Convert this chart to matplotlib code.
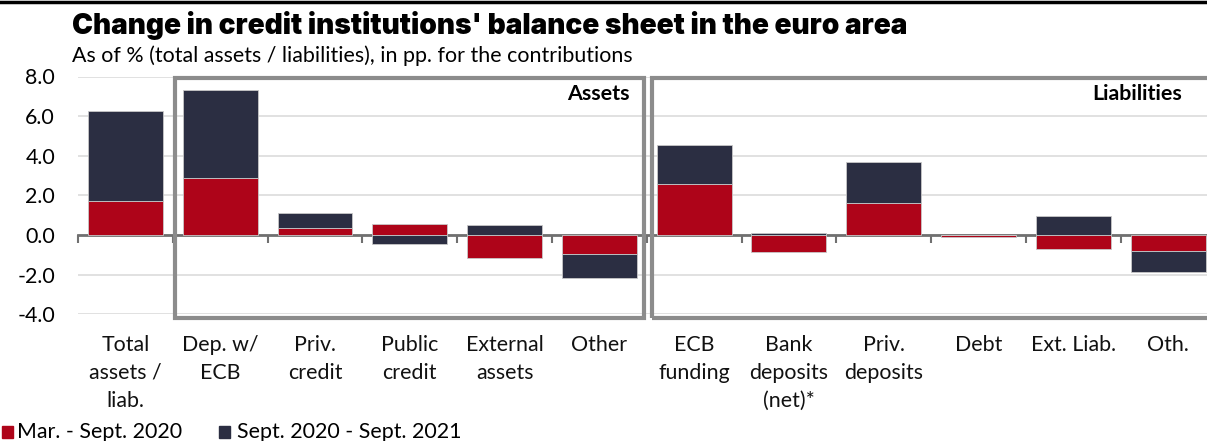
import matplotlib.pyplot as plt
import numpy as np
from matplotlib.patches import Rectangle

# data
categories = ["Total\nassets /\nliab.", "Dep. w/\nECB", "Priv.\ncredit", "Public\ncredit",
              "External\nassets", "Other", "ECB\nfunding", "Bank\ndeposits\n(net)*",
              "Priv.\ndeposits", "Debt", "Ext. Liab.", "Oth."]
mar_sep_2020 = [1.72, 2.89, 0.35, 0.57, -1.15, -0.98, 2.58, -0.85, 1.62, -0.12, -0.73, -0.81]
sep20_sep21 = [4.54, 4.42, 0.76, -0.44, 0.49, -1.20, 1.98, 0.10, 2.08, 0.0, 0.94, -1.06]
series_names = ["Mar. - Sept. 2020", "Sept. 2020 - Sept. 2021"]
yticks = [-4, -2, 0, 2, 4, 6, 8]

RED = "#ae0419"
DARK = "#2b2e42"
GREY = "#8c8c8c"
FS = 15.4

plt.rcParams['font.family'] = ['Lato', 'DejaVu Sans']

W, H = 1207, 441
fig = plt.figure(figsize=(W / 100, H / 100), dpi=100)

# axes placed in pixels (right edge runs past the figure like in the original)
x0, x1 = 78.0, 78.0 + 12 * 94.79
y_top, y_bot = 76.5, 314.3
ax = fig.add_axes([x0 / W, 1 - y_bot / H, (x1 - x0) / W, (y_bot - y_top) / H])

x = np.arange(len(categories))
a = np.array(mar_sep_2020)
b = np.array(sep20_sep21)
b_bottom = np.where(np.sign(a) == np.sign(b), a, 0)

ax.bar(x, a, width=0.79, color=RED, edgecolor="#c8c8c8", linewidth=0.6, zorder=3)
ax.bar(x, b, bottom=b_bottom, width=0.79, color=DARK, edgecolor="#c8c8c8", linewidth=0.6, zorder=3)

ax.set_xlim(-0.5, len(categories) - 0.5)
ax.set_ylim(-4, 8)
ax.set_yticks(yticks)
ax.set_yticklabels([f"{v:.1f}" for v in yticks], fontsize=FS)
ax.tick_params(axis='y', length=0, pad=16.5)
ax.yaxis.grid(True, color="#dcdcdc", linewidth=1.2, zorder=0)

for s in ["top", "right", "left"]:
    ax.spines[s].set_visible(False)
ax.spines["bottom"].set_position(("data", 0))
ax.spines["bottom"].set_color("#707070")
ax.spines["bottom"].set_linewidth(2)
ax.spines["bottom"].set_zorder(2.5)
ax.set_xticks(np.arange(-0.5, len(categories), 1))
ax.set_xticklabels([])
ax.tick_params(axis='x', length=6, width=1.5, color="#707070", direction='out')

# category labels
for i, lab in enumerate(categories):
    ax.text(i, -0.085, lab, transform=ax.get_xaxis_transform(), ha='center', va='top',
            fontsize=FS, linespacing=1.5, color="#111111")

# assets / liabilities boxes
ax.add_patch(Rectangle((0.52, -4.19), 4.95, 12.1, fill=False, edgecolor=GREY,
                       linewidth=3, clip_on=False, zorder=5))
ax.add_patch(Rectangle((5.56, -4.19), 7.0, 12.1, fill=False, edgecolor=GREY,
                       linewidth=3, clip_on=False, zorder=5))
ax.text(5.32, 7.1, "Assets", ha='right', va='center', fontsize=FS, fontweight='bold')
ax.text(11.15, 7.1, "Liabilities", ha='right', va='center', fontsize=FS, fontweight='bold')

# title block
fig.add_artist(plt.Line2D([0, 1], [1 - 2 / H, 1 - 2 / H], color="black", linewidth=2.5))
fig.text(72 / W, 1 - 34 / H, "Change in credit institutions' balance sheet in the euro area",
         fontsize=20.2, fontweight=900, family=['Inter', 'DejaVu Sans'], va='baseline', ha='left')
fig.text(72 / W, 1 - 56 / H, "As of % (total assets / liabilities), in pp. for the contributions",
         fontsize=FS, va='center', ha='left')

# legend
fig.add_artist(Rectangle((2 / W, 1 - 438 / H), 11 / W, 12 / H, color=RED))
fig.text(17 / W, 1 - 432 / H, series_names[0], fontsize=FS, va='center', ha='left')
fig.add_artist(Rectangle((219 / W, 1 - 438 / H), 11 / W, 12 / H, color=DARK))
fig.text(237 / W, 1 - 432 / H, series_names[1], fontsize=FS, va='center', ha='left')

fig.savefig("out.png", dpi=100)
